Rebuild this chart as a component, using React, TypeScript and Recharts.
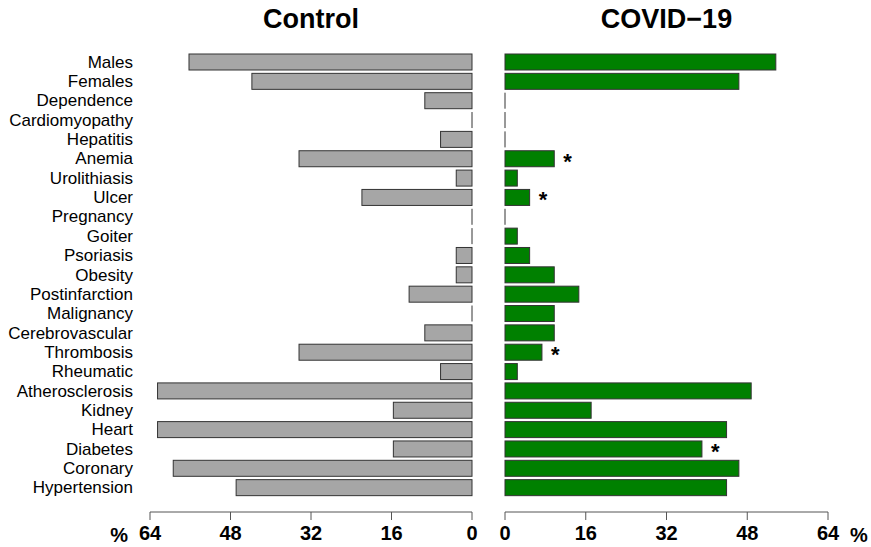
import React from 'react';
import { BarChart, Bar, XAxis, YAxis, LabelList, Label } from 'recharts';

const categories = [
  'Males', 'Females', 'Dependence', 'Cardiomyopathy', 'Hepatitis', 'Anemia',
  'Urolithiasis', 'Ulcer', 'Pregnancy', 'Goiter', 'Psoriasis', 'Obesity',
  'Postinfarction', 'Malignancy', 'Cerebrovascular', 'Thrombosis', 'Rheumatic',
  'Atherosclerosis', 'Kidney', 'Heart', 'Diabetes', 'Coronary', 'Hypertension',
];

const controlPct = [
  56.25, 43.75, 9.38, 0, 6.25, 34.38, 3.13, 21.88, 0, 0, 3.13, 3.13,
  12.5, 0, 9.38, 34.38, 6.25, 62.5, 15.63, 62.5, 15.63, 59.38, 46.88,
];

const covidPct = [
  53.66, 46.34, 0, 0, 0, 9.76, 2.44, 4.88, 0, 2.44, 4.88, 9.76,
  14.63, 9.76, 9.76, 7.32, 2.44, 48.78, 17.07, 43.9, 39.02, 46.34, 43.9,
];

const significant = ['Anemia', 'Ulcer', 'Thrombosis', 'Diabetes'];

const ticks = [0, 16, 32, 48, 64];

const data = categories.map((name, i) => ({
  name,
  control: controlPct[i],
  covid: covidPct[i],
  star: significant.includes(name) ? '*' : '',
}));

const font = "'Liberation Sans', Arial, Helvetica, sans-serif";
const edge = '#333333';

const BarShape = (props: any) => {
  const { x, y, width, height, fill } = props;
  const left = Math.min(x, x + width);
  const w = Math.abs(width);
  if (w < 0.5) {
    return <line x1={x} x2={x} y1={y} y2={y + height} stroke={edge} strokeWidth={1} />;
  }
  return <rect x={left} y={y} width={w} height={height} fill={fill} stroke={edge} strokeWidth={1} />;
};

const tickStyle = { fontSize: 20, fontWeight: 'bold', fill: '#000', fontFamily: font };
const titleStyle: React.CSSProperties = {
  position: 'absolute',
  top: 4,
  fontFamily: font,
  fontWeight: 'bold',
  fontSize: 27,
  textAlign: 'center',
  color: '#000',
};

export default function App() {
  return (
    <div style={{ position: 'absolute', left: 0, top: 0, width: 871, height: 547, background: '#fff' }}>
      <div style={{ ...titleStyle, left: 150, width: 322 }}>Control</div>
      <div style={{ ...titleStyle, left: 505, width: 323 }}>COVID−19</div>

      <div style={{ position: 'absolute', left: 0, top: 0 }}>
        <BarChart
          width={480}
          height={547}
          data={data}
          layout="vertical"
          margin={{ top: 52, right: 8, bottom: 0, left: 0 }}
          barSize={16}
        >
          <XAxis
            type="number"
            domain={[0, 64]}
            ticks={ticks}
            reversed
            height={35}
            tickSize={8}
            tickMargin={6}
            stroke="#555"
            tick={tickStyle}
          >
            <Label value="%" position="left" offset={22} dy={5} style={tickStyle} />
          </XAxis>
          <YAxis
            type="category"
            dataKey="name"
            width={150}
            axisLine={false}
            tickLine={false}
            tickSize={0}
            tickMargin={17}
            interval={0}
            padding={{ top: 0, bottom: 15 }}
            tick={{ fontSize: 17, fill: '#000', fontFamily: font }}
          />
          <Bar dataKey="control" fill="#a6a6a6" shape={BarShape} isAnimationActive={false} />
        </BarChart>
      </div>

      <div style={{ position: 'absolute', left: 480, top: 0 }}>
        <BarChart
          width={391}
          height={547}
          data={data}
          layout="vertical"
          margin={{ top: 52, right: 43, bottom: 0, left: 25 }}
          barSize={16}
        >
          <XAxis
            type="number"
            domain={[0, 64]}
            ticks={ticks}
            height={35}
            tickSize={8}
            tickMargin={6}
            stroke="#555"
            tick={tickStyle}
          >
            <Label value="%" position="right" offset={22} dy={5} style={tickStyle} />
          </XAxis>
          <YAxis
            type="category"
            dataKey="name"
            hide
            interval={0}
            padding={{ top: 0, bottom: 15 }}
          />
          <Bar dataKey="covid" fill="#008000" shape={BarShape} isAnimationActive={false}>
            <LabelList
              dataKey="star"
              position="right"
              offset={9}
              dy={2}
              style={{ fontSize: 22, fontWeight: 'bold', fill: '#000', fontFamily: font }}
            />
          </Bar>
        </BarChart>
      </div>
    </div>
  );
}
